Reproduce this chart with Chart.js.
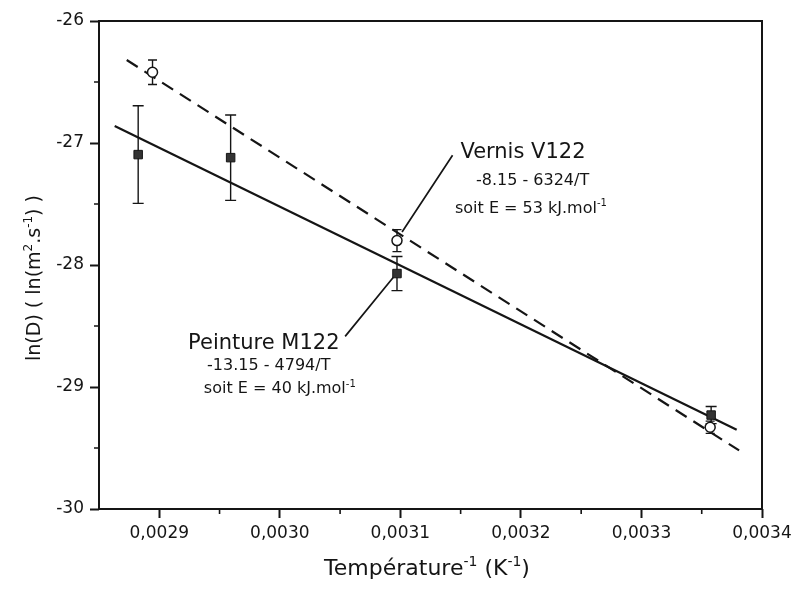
<!DOCTYPE html>
<html>
<head>
<meta charset="utf-8">
<script src="https://cdn.jsdelivr.net/npm/chart.js@4/dist/chart.umd.min.js"></script>
<style>
  body { margin: 0; background: #fff; }
  canvas { display: block; }
</style>
</head>
<body>
<canvas id="chart" width="793" height="589"></canvas>
<script>
// Data (x = 1/T in K^-1, y = ln(D))
const peintureX = [0.0028825, 0.0029592, 0.0030972, 0.0033578];
const peintureY = [-27.095, -27.12, -28.07, -29.23];
const peintureErr = [0.40, 0.35, 0.14, 0.07];

const vernisX = [0.0028944, 0.0030972, 0.0033570];
const vernisY = [-26.42, -27.80, -29.33];
const vernisErr = [0.10, 0.09, 0.05];

// fitted lines, end points as drawn
const peintureFitX = [0.002863, 0.003379];
const peintureFitY = [-26.86, -29.35];
const vernisFitX = [0.002873, 0.003381];
const vernisFitY = [-26.32, -29.52];

// axes
const xTicks = [0.0029, 0.0030, 0.0031, 0.0032, 0.0033, 0.0034];
const xTickLabels = ["0,0029", "0,0030", "0,0031", "0,0032", "0,0033", "0,0034"];
const xMinor = [0.00295, 0.00305, 0.00315, 0.00325, 0.00335];
const yTicks = [-30, -29, -28, -27, -26];
const yTickLabels = ["-30", "-29", "-28", "-27", "-26"];
const yMinor = [-29.5, -28.5, -27.5, -26.5];

const FONT = "'DejaVu Sans', 'Liberation Sans', Arial, sans-serif";
const INK = "#151515";

// annotation text, placed in data coordinates (centre, baseline)
const notes = [
    { x: 0.0032017, y: -27.125, size: 21, parts: [["Vernis V122"]] },
    { x: 0.0032097, y: -27.346, size: 16, parts: [["-8.15 - 6324/T"]] },
    { x: 0.0032083, y: -27.574, size: 16, parts: [["soit E = 53 kJ.mol"], ["-1", true]] },
    { x: 0.0029867, y: -28.691, size: 21, parts: [["Peinture M122"]] },
    { x: 0.0029908, y: -28.863, size: 16, parts: [["-13.15 - 4794/T"]] },
    { x: 0.0030000, y: -29.052, size: 16, parts: [["soit E = 40 kJ.mol"], ["-1", true]] },
];
const leaders = [
    [[0.0031433, -27.10], [0.0031014, -27.73]],
    [[0.0030542, -28.585], [0.0030942, -28.10]],
];

function toPoints(xs, ys) {
    return xs.map((x, i) => ({ x: x, y: ys[i] }));
}

// draws text with superscript parts, centred on x, rotated by angle
function drawRich(ctx, parts, x, y, size, angle) {
    const supSize = Math.round(size * 0.65);
    let total = 0;
    const widths = parts.map(p => {
        ctx.font = `${p[1] ? supSize : size}px ${FONT}`;
        const w = ctx.measureText(p[0]).width;
        total += w;
        return w;
    });
    ctx.save();
    ctx.translate(x, y);
    ctx.rotate(angle || 0);
    ctx.fillStyle = INK;
    ctx.textBaseline = "alphabetic";
    ctx.textAlign = "left";
    let cx = -total / 2;
    parts.forEach((p, i) => {
        ctx.font = `${p[1] ? supSize : size}px ${FONT}`;
        ctx.fillText(p[0], cx, p[1] ? -size * 0.42 : 0);
        cx += widths[i];
    });
    ctx.restore();
}

const decorPlugin = {
    id: "decor",
    beforeDraw(chart) {
        const ctx = chart.ctx;
        ctx.save();
        ctx.fillStyle = "#fff";
        ctx.fillRect(0, 0, chart.width, chart.height);
        ctx.restore();
    },
    beforeDatasetsDraw(chart) {
        // error bars, under the markers
        const ctx = chart.ctx;
        const xs = chart.scales.x, ys = chart.scales.y;
        const series = [
            [peintureX, peintureY, peintureErr, 5.5],
            [vernisX, vernisY, vernisErr, 4.5],
        ];
        ctx.save();
        ctx.strokeStyle = INK;
        ctx.lineWidth = 1.4;
        series.forEach(([sx, sy, se, cap]) => {
            sx.forEach((v, i) => {
                const px = xs.getPixelForValue(v);
                const top = ys.getPixelForValue(sy[i] + se[i]);
                const bot = ys.getPixelForValue(sy[i] - se[i]);
                ctx.beginPath();
                ctx.moveTo(px, top); ctx.lineTo(px, bot);
                ctx.moveTo(px - cap, top); ctx.lineTo(px + cap, top);
                ctx.moveTo(px - cap, bot); ctx.lineTo(px + cap, bot);
                ctx.stroke();
            });
        });
        ctx.restore();
    },
    afterDraw(chart) {
        const ctx = chart.ctx;
        const a = chart.chartArea;
        const xs = chart.scales.x, ys = chart.scales.y;
        ctx.save();
        ctx.strokeStyle = INK;

        // frame
        ctx.lineWidth = 2;
        ctx.strokeRect(a.left, a.top, a.right - a.left, a.bottom - a.top);

        // minor ticks
        ctx.lineWidth = 1.6;
        ctx.beginPath();
        xMinor.forEach(v => {
            const px = xs.getPixelForValue(v);
            ctx.moveTo(px, a.bottom); ctx.lineTo(px, a.bottom + 5);
        });
        yMinor.forEach(v => {
            const py = ys.getPixelForValue(v);
            ctx.moveTo(a.left, py); ctx.lineTo(a.left - 5, py);
        });
        ctx.stroke();

        // leader lines
        ctx.lineWidth = 1.7;
        ctx.beginPath();
        leaders.forEach(([p0, p1]) => {
            ctx.moveTo(xs.getPixelForValue(p0[0]), ys.getPixelForValue(p0[1]));
            ctx.lineTo(xs.getPixelForValue(p1[0]), ys.getPixelForValue(p1[1]));
        });
        ctx.stroke();
        ctx.restore();

        notes.forEach(n => {
            drawRich(ctx, n.parts, xs.getPixelForValue(n.x), ys.getPixelForValue(n.y), n.size, 0);
        });

        // axis titles
        drawRich(ctx, [["Température"], ["-1", true], [" (K"], ["-1", true], [")"]], 427, 575, 22, 0);
        drawRich(ctx, [["ln(D) ( ln(m"], ["2", true], [".s"], ["-1", true], [") )"]], 40, 278, 19, -Math.PI / 2);
    }
};

const ctx = document.getElementById("chart").getContext("2d");
new Chart(ctx, {
    type: "scatter",
    data: {
        datasets: [
            {
                label: "Peinture M122 fit",
                data: toPoints(peintureFitX, peintureFitY),
                showLine: true,
                borderColor: INK,
                borderWidth: 2.2,
                pointRadius: 0,
                order: 3,
            },
            {
                label: "Vernis V122 fit",
                data: toPoints(vernisFitX, vernisFitY),
                showLine: true,
                borderColor: INK,
                borderWidth: 2.2,
                borderDash: [13, 8],
                pointRadius: 0,
                order: 2,
            },
            {
                label: "Peinture M122",
                data: toPoints(peintureX, peintureY),
                pointStyle: "rect",
                pointRadius: 6,
                backgroundColor: "#333",
                borderColor: INK,
                borderWidth: 1,
                order: 1,
            },
            {
                label: "Vernis V122",
                data: toPoints(vernisX, vernisY),
                pointStyle: "circle",
                pointRadius: 5,
                backgroundColor: "#fff",
                borderColor: INK,
                borderWidth: 1.5,
                order: 0,
            },
        ],
    },
    options: {
        responsive: false,
        animation: false,
        layout: { padding: { top: 21, right: 31, left: 0, bottom: 0 } },
        plugins: {
            legend: { display: false },
            tooltip: { enabled: false },
        },
        scales: {
            x: {
                type: "linear",
                min: 0.00285,
                max: 0.0034,
                afterBuildTicks: s => { s.ticks = xTicks.map(v => ({ value: v })); },
                afterFit: s => { s.height = 80; s.paddingLeft = 0; s.paddingRight = 0; },
                ticks: {
                    callback: (v, i) => xTickLabels[i],
                    color: INK,
                    font: { family: FONT, size: 17 },
                    padding: 5,
                    maxRotation: 0,
                },
                grid: { drawOnChartArea: false, tickLength: 9, tickWidth: 2, color: INK },
                border: { display: false },
            },
            y: {
                type: "linear",
                min: -30,
                max: -26,
                afterBuildTicks: s => { s.ticks = yTicks.map(v => ({ value: v })); },
                afterFit: s => { s.width = 99; s.paddingTop = 0; s.paddingBottom = 0; },
                ticks: {
                    callback: (v, i) => yTickLabels[i],
                    color: INK,
                    font: { family: FONT, size: 17 },
                    padding: 6,
                },
                grid: { drawOnChartArea: false, tickLength: 9, tickWidth: 2, color: INK },
                border: { display: false },
            },
        },
    },
    plugins: [decorPlugin],
});
</script>
</body>
</html>
